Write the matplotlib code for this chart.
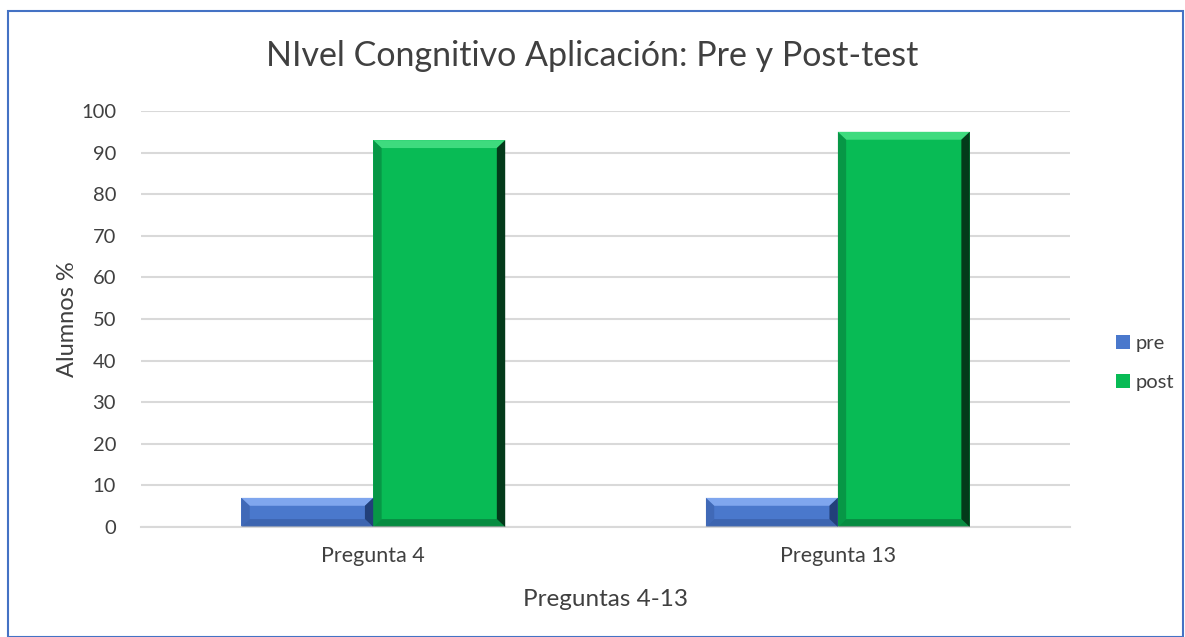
import matplotlib.pyplot as plt
from matplotlib.patches import Polygon, Rectangle
import numpy as np

categories = ["Pregunta 4", "Pregunta 13"]
pre = [7, 7]
post = [93, 95]
series_names = ["pre", "post"]

plt.rcParams['font.family'] = ['Lato', 'DejaVu Sans']

fig = plt.figure(figsize=(11.85, 6.37), dpi=100)
ax = fig.add_axes([0.119, 0.1727, 0.784, 0.6530])

x = np.arange(len(categories))
w = 0.284

faces = {"pre": "#4A78CC", "post": "#08BB55"}
light = {"pre": "#7FA6EE", "post": "#3EDB7E"}
dark = {"pre": "#2E4F90", "post": "#06542A"}
darker = {"pre": "#22407A", "post": "#033A1A"}


def bevel(ax, rect, name):
    x0, y0 = rect.get_x(), rect.get_y()
    x1, y1 = x0 + rect.get_width(), y0 + rect.get_height()
    bx = 0.018
    by = min(1.9, rect.get_height() / 3)
    top = [(x0, y1), (x1, y1), (x1 - bx, y1 - by), (x0 + bx, y1 - by)]
    bot = [(x0, y0), (x1, y0), (x1 - bx, y0 + by), (x0 + bx, y0 + by)]
    left = [(x0, y0), (x0, y1), (x0 + bx, y1 - by), (x0 + bx, y0 + by)]
    right = [(x1, y0), (x1, y1), (x1 - bx, y1 - by), (x1 - bx, y0 + by)]
    ax.add_patch(Polygon(top, closed=True, fc=light[name], ec="none", zorder=3))
    ax.add_patch(Polygon(bot, closed=True, fc=dark[name], ec="none", alpha=0.45, zorder=3))
    ax.add_patch(Polygon(left, closed=True, fc=dark[name], ec="none", alpha=0.35, zorder=3))
    ax.add_patch(Polygon(right, closed=True, fc=darker[name], ec="none", zorder=3))


bars_pre = ax.bar(x - w / 2, pre, w, color=faces["pre"], label="pre", zorder=2)
bars_post = ax.bar(x + w / 2, post, w, color=faces["post"], label="post", zorder=2)
for r in bars_pre:
    bevel(ax, r, "pre")
for r in bars_post:
    bevel(ax, r, "post")

ax.set_xlim(-0.5, 1.5)
ax.set_ylim(0, 100)
ax.set_yticks(range(0, 101, 10))
ax.set_xticks(x)
ax.set_xticklabels(categories, fontsize=15.5, color="#404040")
ax.tick_params(axis="y", labelsize=14.5, colors="#404040", length=0, pad=18)
ax.tick_params(axis="x", length=0, pad=14)
ax.grid(axis="y", color="#D9D9D9", linewidth=1.5, zorder=0)
ax.set_axisbelow(True)
for s in ["top", "right", "left"]:
    ax.spines[s].set_visible(False)
ax.spines["bottom"].set_color("#D9D9D9")
ax.spines["bottom"].set_linewidth(1.5)

ax.set_ylabel("Alumnos %", fontsize=17, color="#404040", labelpad=2)
ax.set_xlabel("Preguntas 4-13", fontsize=17.5, color="#404040", labelpad=16)
fig.text(0.5, 0.912, "NIvel Congnitivo Aplicación: Pre y Post-test",
         ha="center", va="center", fontsize=24.5, color="#404040")

leg = ax.legend(loc="center left", bbox_to_anchor=(1.03, 0.394), frameon=False,
                fontsize=14.5, handlelength=0.7, handleheight=0.7,
                labelspacing=1.1, handletextpad=0.25)
for t in leg.get_texts():
    t.set_color("#404040")

fig.patches.append(Rectangle((0.007, 0.0), 0.991, 0.982, transform=fig.transFigure,
                             fill=False, ec="#4472C4", lw=1.5))

fig.savefig("out.png", dpi=100)
